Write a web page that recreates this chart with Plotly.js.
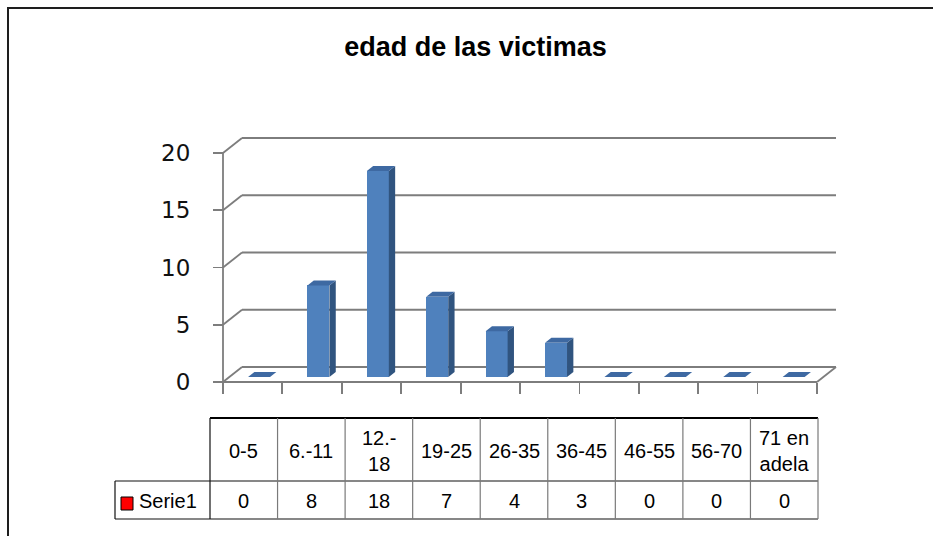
<!DOCTYPE html>
<html>
<head>
<meta charset="utf-8">
<script src="https://cdn.plot.ly/plotly-3.0.1.min.js"></script>
<style>html,body{margin:0;padding:0;background:#fff;overflow:hidden;}#chart{width:933px;height:536px;}</style>
</head>
<body>
<div id="chart"></div>
<script>
// ---- data ----
const titleText = 'edad de las victimas';
const seriesName = 'Serie1';
const categories = ['0-5', '6.-11', '12.-<br>18', '19-25', '26-35', '36-45', '46-55', '56-70', '71 en<br>adela', ''];
const values = [0, 8, 18, 7, 4, 3, 0, 0, 0, 0];
const yTickVals = [0, 5, 10, 15, 20];
const yTickText = ['0', '5', '10', '15', '20'];

// ---- layout geometry (pixels) ----
const FIG_W = 933, FIG_H = 536;
const PL = 200, PR = 850, PT = 120, PB = 400;
const PW = PR - PL, PH = PB - PT;
const X0PIX = 223, SLOT = 59.4, Y0PIX = 382, UNIT = 11.45;
const DEPTH_DX = 19 / SLOT, DEPTH_DY = 15 / UNIT;   // back-plane offset in data units
const BAR_W = 0.37, BAR_D0 = 1 / 3, BAR_D1 = 2 / 3;

const xRange = [(PL - X0PIX) / SLOT - 0.5, (PR - X0PIX) / SLOT - 0.5];
const yRange = [(Y0PIX - PB) / UNIT, (Y0PIX - PT) / UNIT];
const px = p => (p - PL) / PW;
const py = p => (PB - p) / PH;

const n = categories.length;
const gridCol = '#7d7d7d';
const shapes = [];
const line = (x0, y0, x1, y1, col, w, ref, layer) => shapes.push({
  type: 'line', xref: ref || 'x', yref: ref ? 'paper' : 'y', x0, y0, x1, y1,
  line: {color: col, width: w}, layer: layer || 'below'
});

// walls and floor
const xl = -0.5, xr = n - 0.5;
yTickVals.forEach(v => {
  line(xl + DEPTH_DX, v + DEPTH_DY, xr + DEPTH_DX, v + DEPTH_DY, gridCol, 1.8);
  line(xl, v, xl + DEPTH_DX, v + DEPTH_DY, gridCol, 1.8);
});
line(xl, 0, xl, yTickVals[yTickVals.length - 1], gridCol, 1.8);
line(xl, 0, xr, 0, gridCol, 1.8);
line(xr, 0, xr + DEPTH_DX, DEPTH_DY, gridCol, 1.8);

// bars (3D): front via bar trace, side/top via filled scatter
const base0 = BAR_D0 * DEPTH_DY;
const dxB = (BAR_D1 - BAR_D0) * DEPTH_DX, dyB = (BAR_D1 - BAR_D0) * DEPTH_DY;
const barX = values.map((v, i) => i + BAR_D0 * DEPTH_DX);
const sideX = [], sideY = [], topX = [], topY = [];
values.forEach((v, i) => {
  const a = barX[i] - BAR_W / 2, b = barX[i] + BAR_W / 2;
  const t = base0 + v;
  if (v > 0) {
    sideX.push(b, b + dxB, b + dxB, b, b, null);
    sideY.push(base0, base0 + dyB, t + dyB, t, base0, null);
  }
  topX.push(a, b, b + dxB, a + dxB, a, null);
  topY.push(t, t, t + dyB, t + dyB, t, null);
});

const traces = [
  {type: 'bar', x: barX, y: values, base: values.map(() => base0), width: BAR_W,
   marker: {color: '#4F81BD', line: {width: 0}}, hoverinfo: 'skip', name: seriesName},
  {type: 'scatter', mode: 'lines', x: sideX, y: sideY, fill: 'toself', fillcolor: '#30547F',
   line: {width: 0, color: '#30547F'}, hoverinfo: 'skip'},
  {type: 'scatter', mode: 'lines', x: topX, y: topY, fill: 'toself', fillcolor: '#3E69A2',
   line: {width: 0, color: '#3E69A2'}, hoverinfo: 'skip'}
];

// outer frame (top and left edges visible)
line(px(7), py(8), px(FIG_W + 5), py(8), '#1e1e1e', 2, 'paper', 'above');
line(px(8), py(7), px(8), py(FIG_H + 5), '#1e1e1e', 2, 'paper', 'above');

// data table
const tabCols = categories.filter(c => c !== '');
const TL = 210, TR = 818, TT = 418, TM = 481, TB = 519, LEG_L = 115;
const colW = (TR - TL) / tabCols.length;
line(px(TL), py(TT), px(TR), py(TT), '#000', 2.2, 'paper', 'above');
line(px(LEG_L), py(TM), px(TR), py(TM), '#111', 1.2, 'paper', 'above');
line(px(LEG_L), py(TB), px(TR), py(TB), '#111', 1.2, 'paper', 'above');
line(px(LEG_L), py(TM), px(LEG_L), py(TB), '#111', 1.2, 'paper', 'above');
for (let k = 0; k <= tabCols.length; k++) {
  const xx = TL + k * colW;
  const col = (k === 0) ? '#111' : '#7a7a7a';
  line(px(xx), py(TT), px(xx), py(TB), col, 1.2, 'paper', 'above');
}
shapes.push({type: 'rect', xref: 'paper', yref: 'paper', x0: px(121), x1: px(133), y0: py(510), y1: py(497),
  fillcolor: '#FF0000', line: {color: '#000', width: 1}, layer: 'above'});

const tFont = {family: 'Liberation Sans, Arial, sans-serif', size: 20, color: '#000'};
const annotations = [];
tabCols.forEach((c, k) => {
  const cx = TL + (k + 0.5) * colW;
  annotations.push({xref: 'paper', yref: 'paper', x: px(cx), y: py((TT + TM) / 2 + 1), text: c,
    showarrow: false, xanchor: 'center', yanchor: 'middle', font: tFont});
  annotations.push({xref: 'paper', yref: 'paper', x: px(cx), y: py((TM + TB) / 2 + 1), text: String(values[k]),
    showarrow: false, xanchor: 'center', yanchor: 'middle', font: tFont});
});
annotations.push({xref: 'paper', yref: 'paper', x: px(137), y: py((TM + TB) / 2 + 1), text: seriesName,
  showarrow: false, xanchor: 'left', yanchor: 'middle', font: tFont});

const layout = {
  width: FIG_W, height: FIG_H,
  margin: {l: PL, r: FIG_W - PR, t: PT, b: FIG_H - PB, pad: 0},
  paper_bgcolor: '#fff', plot_bgcolor: 'rgba(0,0,0,0)',
  showlegend: false,
  title: {text: '<b>' + titleText + '</b>', x: 475.5 / FIG_W, xref: 'container', xanchor: 'center',
    y: 1 - 47 / FIG_H, yref: 'container', yanchor: 'middle',
    font: {family: 'Liberation Sans, Arial, sans-serif', size: 27, color: '#000'}},
  xaxis: {range: xRange, showgrid: false, zeroline: false, showline: false,
    tickmode: 'array', tickvals: categories.map((c, i) => i - 0.5).concat([n - 0.5]),
    ticks: 'outside', ticklen: 11, tickwidth: 1.8, tickcolor: gridCol, showticklabels: false,
    anchor: 'free', position: py(Y0PIX), fixedrange: true},
  yaxis: {range: yRange, showgrid: false, zeroline: false, showline: false,
    tickmode: 'array', tickvals: yTickVals, ticktext: yTickText,
    ticks: 'outside', ticklen: 10, tickwidth: 1.8, tickcolor: gridCol,
    ticklabelstandoff: 18,
    tickfont: {family: 'DejaVu Sans, Verdana, sans-serif', size: 23, color: '#111'},
    anchor: 'free', position: px(X0PIX), fixedrange: true},
  shapes: shapes,
  annotations: annotations,
  bargap: 0
};

Plotly.newPlot('chart', traces, layout, {displayModeBar: false, staticPlot: true});
</script>
</body>
</html>
